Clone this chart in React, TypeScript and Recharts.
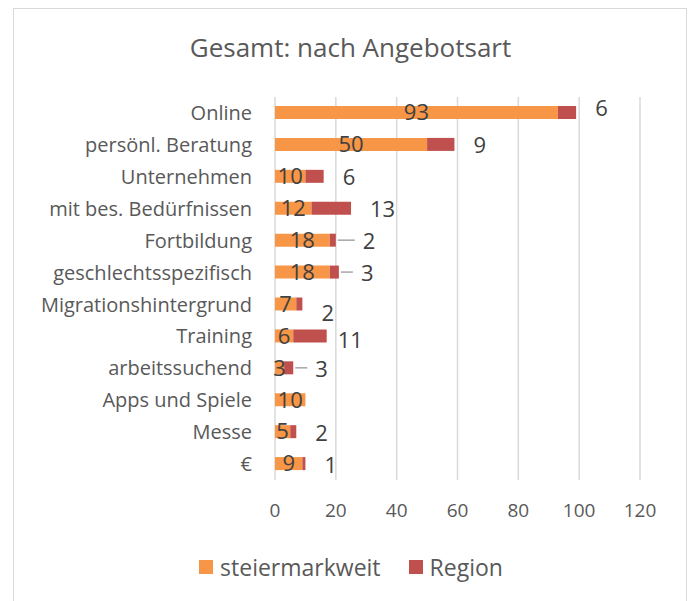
import React from 'react'
import { Bar, BarChart, CartesianGrid, LabelList, Legend, XAxis, YAxis } from 'recharts'

const categories = [
  'Online',
  'persönl. Beratung',
  'Unternehmen',
  'mit bes. Bedürfnissen',
  'Fortbildung',
  'geschlechtsspezifisch',
  'Migrationshintergrund',
  'Training',
  'arbeitssuchend',
  'Apps und Spiele',
  'Messe',
  '€',
]
const steiermarkweit = [93, 50, 10, 12, 18, 18, 7, 6, 3, 10, 5, 9]
const region = [6, 9, 6, 13, 2, 3, 2, 11, 3, 0, 2, 1]
const xTicks = [0, 20, 40, 60, 80, 100, 120]

const FONT = "'Open Sans', sans-serif"
const ORANGE = '#F79646'
const RED = '#C0504D'
const TEXT = '#595959'
const LABEL = '#404040'

// excel had the region labels dragged around a bit, some with leader lines
const labelNudge: Record<string, { dx: number; dy: number; leader?: boolean }> = {
  Online: { dx: 0, dy: -6 },
  Fortbildung: { dx: 8, dy: 0, leader: true },
  geschlechtsspezifisch: { dx: 3, dy: 0, leader: true },
  Migrationshintergrund: { dx: 0, dy: 8 },
  Training: { dx: -8, dy: 3 },
  arbeitssuchend: { dx: 3, dy: 0, leader: true },
}

const data = categories.map((name, i) => ({
  name,
  steiermarkweit: steiermarkweit[i],
  region: region[i],
}))

function RegionLabel(props: any) {
  const { x, y, width, height, value, index } = props
  if (!value) return null
  const nudge = labelNudge[categories[index]] ?? { dx: 0, dy: 0 }
  const endX = Number(x) + Number(width)
  const cy = Number(y) + Number(height) / 2
  const tx = endX + 19 + nudge.dx
  return (
    <g>
      {nudge.leader && (
        <line x1={endX + 2} y1={cy} x2={tx - 8} y2={cy} stroke='#a6a6a6' strokeWidth={1.5} />
      )}
      <text
        x={tx}
        y={cy + nudge.dy}
        dominantBaseline='central'
        fill={LABEL}
        fontSize={22}
        fontFamily={FONT}
      >
        {value}
      </text>
    </g>
  )
}

function LegendContent() {
  const items = [
    { label: 'steiermarkweit', color: ORANGE },
    { label: 'Region', color: RED },
  ]
  return (
    <div
      style={{
        display: 'flex',
        justifyContent: 'center',
        alignItems: 'center',
        height: 85,
        paddingTop: 16,
        boxSizing: 'border-box',
        paddingLeft: 62,
        fontFamily: FONT,
        fontSize: 23,
        color: TEXT,
      }}
    >
      {items.map((it) => (
        <div key={it.label} style={{ display: 'flex', alignItems: 'center', margin: '0 14px' }}>
          <span style={{ width: 14, height: 14, background: it.color, marginRight: 7, display: 'inline-block' }} />
          <span>{it.label}</span>
        </div>
      ))}
    </div>
  )
}

export default function App() {
  return (
    <div style={{ position: 'absolute', left: 0, top: 0, width: 692, height: 601, overflow: 'hidden', background: '#fff' }}>
      <div
        style={{
          position: 'absolute',
          left: 13,
          top: 8,
          width: 672,
          height: 620,
          border: '1.5px solid #d9d9d9',
        }}
      />
      <div
        style={{
          position: 'absolute',
          left: 0,
          top: 29,
          width: 701,
          textAlign: 'center',
          fontFamily: FONT,
          fontSize: 26,
          color: TEXT,
        }}
      >
        Gesamt: nach Angebotsart
      </div>
      <BarChart
        width={692}
        height={601}
        data={data}
        layout='vertical'
        margin={{ top: 97, right: 52, bottom: 0, left: 0 }}
        style={{ position: 'absolute', left: 0, top: 0 }}
      >
        <CartesianGrid horizontal={false} stroke='#d9d9d9' strokeWidth={1.5} />
        <XAxis
          type='number'
          domain={[0, 120]}
          ticks={xTicks}
          axisLine={false}
          tickLine={false}
          tickSize={0}
          tickMargin={24}
          height={36}
          tick={{ fill: TEXT, fontSize: 19, fontFamily: FONT }}
        />
        <YAxis
          type='category'
          dataKey='name'
          width={275}
          interval={0}
          axisLine={false}
          tickLine={false}
          tickSize={0}
          tickMargin={23}
          tick={{ fill: TEXT, fontSize: 20, fontFamily: FONT }}
        />
        <Legend verticalAlign='bottom' height={85} content={<LegendContent />} />
        <Bar dataKey='steiermarkweit' stackId='a' fill={ORANGE} barSize={13} isAnimationActive={false}>
          <LabelList dataKey='steiermarkweit' position='center' fill={LABEL} fontSize={22} fontFamily={FONT} />
        </Bar>
        <Bar dataKey='region' stackId='a' fill={RED} barSize={13} isAnimationActive={false}>
          <LabelList dataKey='region' content={<RegionLabel />} />
        </Bar>
      </BarChart>
    </div>
  )
}
